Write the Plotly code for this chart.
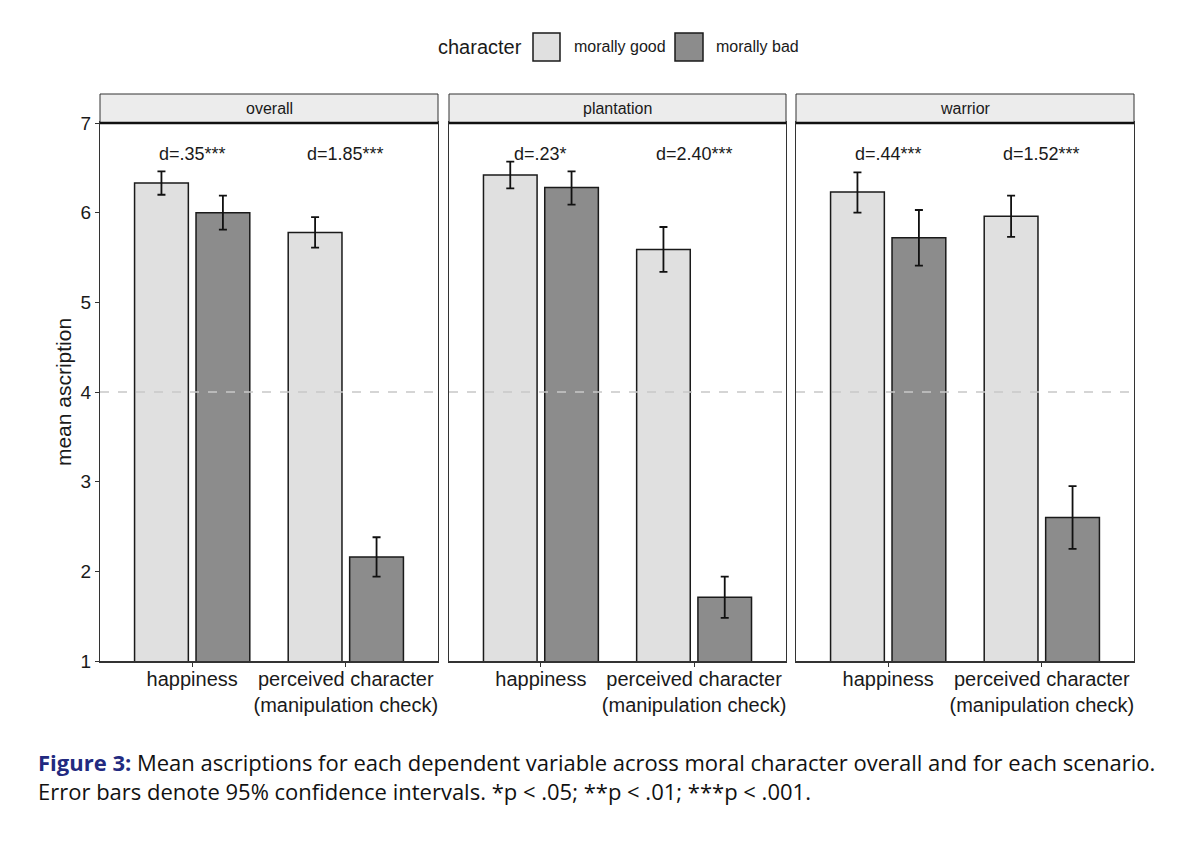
import plotly.graph_objects as go

# ---------------- data ----------------
panels = ["overall", "plantation", "warrior"]
dv_labels = ["happiness", "perceived character<br>(manipulation check)"]
dv_pos = [1, 2]

good_mean = [[6.33, 5.78], [6.42, 5.59], [6.23, 5.96]]
good_lo = [[6.20, 5.61], [6.27, 5.34], [6.00, 5.73]]
good_hi = [[6.46, 5.95], [6.57, 5.84], [6.45, 6.19]]

bad_mean = [[6.00, 2.16], [6.28, 1.71], [5.72, 2.60]]
bad_lo = [[5.81, 1.94], [6.09, 1.48], [5.41, 2.25]]
bad_hi = [[6.19, 2.38], [6.46, 1.94], [6.03, 2.95]]

d_labels = [["d=.35***", "d=1.85***"], ["d=.23*", "d=2.40***"], ["d=.44***", "d=1.52***"]]
d_y = 6.65
midpoint = 4

y_ticks = [1, 2, 3, 4, 5, 6, 7]
legend_title = "character"
legend_names = ["morally good", "morally bad"]

# ---------------- style ----------------
W, H = 1200, 842
GOOD_C = "#e0e0e0"
BAD_C = "#8c8c8c"
EDGE = "#1a1a1a"
FRAME = "#333333"
FONT = "Liberation Sans, Arial, sans-serif"

panel_px = [(100, 438), (449, 786), (796, 1134)]
y_top_px, y_bot_px = 123, 661
strip_top_px = 94

def px_x(p):
    return p / W

def px_y(p):
    return 1 - p / H

fig = go.Figure()

for i, p in enumerate(panels):
    xa = "x" if i == 0 else f"x{i+1}"
    ya = "y" if i == 0 else f"y{i+1}"
    gm, gl, gh = good_mean[i], good_lo[i], good_hi[i]
    bm, bl, bh = bad_mean[i], bad_lo[i], bad_hi[i]
    fig.add_trace(go.Bar(
        x=dv_pos, y=gm, xaxis=xa, yaxis=ya,
        offset=-0.375, width=0.35,
        name=legend_names[0], legendgroup="good", showlegend=False,
        marker=dict(color=GOOD_C, line=dict(color=EDGE, width=1.5)),
        error_y=dict(type="data", symmetric=False,
                     array=[h - m for h, m in zip(gh, gm)],
                     arrayminus=[m - l for m, l in zip(gm, gl)],
                     color="#111111", thickness=1.8, width=4),
        hoverinfo="skip",
    ))
    fig.add_trace(go.Bar(
        x=dv_pos, y=bm, xaxis=xa, yaxis=ya,
        offset=0.025, width=0.35,
        name=legend_names[1], legendgroup="bad", showlegend=False,
        marker=dict(color=BAD_C, line=dict(color=EDGE, width=1.5)),
        error_y=dict(type="data", symmetric=False,
                     array=[h - m for h, m in zip(bh, bm)],
                     arrayminus=[m - l for m, l in zip(bm, bl)],
                     color="#111111", thickness=1.8, width=4),
        hoverinfo="skip",
    ))

layout = dict(
    width=W, height=H,
    margin=dict(l=0, r=0, t=0, b=0, autoexpand=False),
    paper_bgcolor="white", plot_bgcolor="white",
    barmode="overlay",
    font=dict(family=FONT, color="#1a1a1a"),
    showlegend=False,
)

shapes = []
annotations = []
for i, p in enumerate(panels):
    xk = "xaxis" if i == 0 else f"xaxis{i+1}"
    yk = "yaxis" if i == 0 else f"yaxis{i+1}"
    xr = "x" if i == 0 else f"x{i+1}"
    yr = "y" if i == 0 else f"y{i+1}"
    x0, x1 = panel_px[i]
    layout[xk] = dict(
        domain=[px_x(x0), px_x(x1)], anchor=yr, automargin=False,
        range=[0.4, 2.6], tickvals=dv_pos, ticktext=dv_labels,
        ticks="outside", ticklen=4, tickcolor=FRAME, tickwidth=1.2,
        ticklabelstandoff=-5,
        showline=True, linecolor=FRAME, linewidth=2, mirror=True,
        showgrid=False, zeroline=False,
        tickfont=dict(size=20, family=FONT, color="#1a1a1a"),
        fixedrange=True,
    )
    layout[yk] = dict(
        domain=[px_y(y_bot_px), px_y(y_top_px)], anchor=xr, automargin=False,
        range=[1, 7], tickvals=y_ticks,
        ticks="outside" if i == 0 else "", ticklen=4, tickcolor=FRAME, tickwidth=1.2,
        showticklabels=(i == 0),
        showline=True, linecolor=FRAME, linewidth=1, mirror=True,
        showgrid=False, zeroline=False,
        tickfont=dict(size=19, family=FONT, color="#1a1a1a"),
        fixedrange=True,
    )
    if i == 0:
        layout[yk]["title"] = dict(text="mean ascription", font=dict(size=21, family=FONT), standoff=3)
    # strip
    shapes.append(dict(type="rect", xref="paper", yref="paper",
                       x0=px_x(x0), x1=px_x(x1), y0=px_y(y_top_px), y1=px_y(strip_top_px),
                       fillcolor="#ececec", line=dict(color=FRAME, width=1), layer="above"))
    shapes.append(dict(type="line", xref="paper", yref="paper",
                       x0=px_x(x0), x1=px_x(x1), y0=px_y(y_top_px), y1=px_y(y_top_px),
                       line=dict(color="#111111", width=2.5), layer="above"))
    annotations.append(dict(text=p, xref="paper", yref="paper",
                            x=(px_x(x0) + px_x(x1)) / 2, y=px_y((y_top_px + strip_top_px) / 2),
                            showarrow=False, font=dict(size=16, family=FONT, color="#1a1a1a"),
                            xanchor="center", yanchor="middle"))
    # dashed midpoint line
    shapes.append(dict(type="line", xref=f"{xr} domain", yref=yr,
                       x0=0, x1=1, y0=midpoint, y1=midpoint,
                       line=dict(color="#c8c8c8", width=1.5, dash="dash"), layer="above"))
    # effect sizes
    for j, lab in enumerate(d_labels[i]):
        annotations.append(dict(text=lab, xref=xr, yref=yr, x=dv_pos[j], y=d_y,
                                showarrow=False, font=dict(size=18, family=FONT, color="#1a1a1a"),
                                xanchor="center", yanchor="middle"))

# legend (drawn as keys + labels at the top)
leg_y = px_y(47)
annotations.append(dict(text=legend_title, xref="paper", yref="paper", x=px_x(436), y=leg_y,
                        xanchor="left", yanchor="middle", showarrow=False,
                        font=dict(size=20, family=FONT, color="#1a1a1a")))
key_px = [(533, 560), (675, 703)]
label_px = [572, 714]
for (k0, k1), lx, nm, col in zip(key_px, label_px, legend_names, [GOOD_C, BAD_C]):
    shapes.append(dict(type="rect", xref="paper", yref="paper",
                       x0=px_x(k0), x1=px_x(k1), y0=px_y(61), y1=px_y(33),
                       fillcolor=col, line=dict(color=EDGE, width=1.5)))
    annotations.append(dict(text=nm, xref="paper", yref="paper", x=px_x(lx), y=leg_y,
                            xanchor="left", yanchor="middle", showarrow=False,
                            font=dict(size=16, family=FONT, color="#1a1a1a")))

caption = ("<span style='color:#222a80'><b>Figure 3:</b></span> Mean ascriptions for each dependent variable "
           "across moral character overall and for each scenario.<br>"
           "Error bars denote 95% confidence intervals. *p < .05; **p < .01; ***p < .001.")
annotations.append(dict(text=caption, xref="paper", yref="paper", x=px_x(36), y=px_y(776),
                        xanchor="left", yanchor="middle", align="left", showarrow=False,
                        font=dict(size=22, family="Open Sans, sans-serif", color="#111111")))

layout["shapes"] = shapes
layout["annotations"] = annotations
fig.update_layout(**layout)

fig.write_html("out.html", config={"displayModeBar": False},
               post_script="document.body.style.margin='0';")
